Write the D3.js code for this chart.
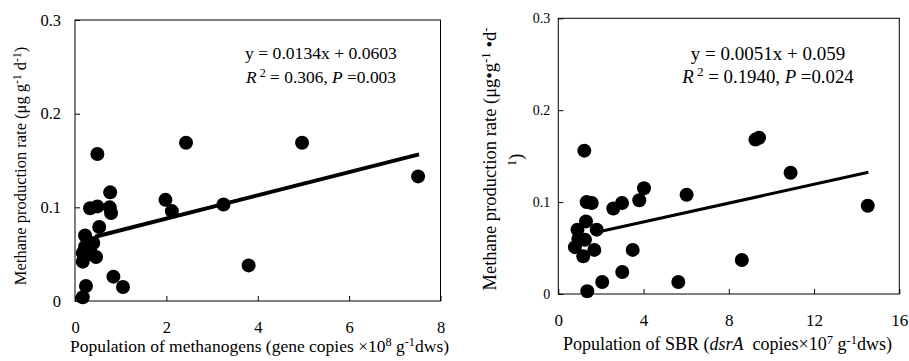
<!DOCTYPE html>
<html>
<head>
<meta charset="utf-8">
<script src="https://cdn.jsdelivr.net/npm/d3@7"></script>
<style>
  body { margin: 0; background: #fff; }
  svg text { font-family: "Liberation Serif", "Times New Roman", Times, "DejaVu Serif", serif; }
  .domain { display: none; }
</style>
</head>
<body>
<script>
var width = 909,
    height = 361;

// methanogens panel
var methX = [2.43, 4.97, 0.49, 7.51, 0.77, 1.98, 2.12, 3.25, 0.33, 0.49, 0.76, 0.79, 0.53,
             0.22, 0.40, 0.22, 0.33, 0.17, 0.46, 0.17, 0.84, 1.05, 0.24, 0.17, 3.80, 0.26];
var methY = [0.169, 0.169, 0.157, 0.133, 0.116, 0.108, 0.096, 0.103, 0.099, 0.101, 0.100, 0.094, 0.079,
             0.070, 0.062, 0.058, 0.056, 0.051, 0.047, 0.042, 0.026, 0.015, 0.016, 0.004, 0.038, 0.050];
var methFitX = [0.44, 7.53];
var methFitY = [0.0686, 0.1566];
var methXTicks = [0, 2, 4, 6, 8];

// SBR panel
var sbrX = [1.22, 9.25, 9.42, 10.9, 14.52, 6.02, 4.02, 3.80, 2.99, 2.58, 1.33, 1.57, 1.30,
            1.80, 0.90, 0.94, 1.25, 0.78, 1.17, 1.69, 3.49, 8.61, 3.00, 2.06, 5.63, 1.36];
var sbrY = [0.156, 0.168, 0.170, 0.132, 0.096, 0.108, 0.115, 0.102, 0.099, 0.093, 0.100, 0.099, 0.079,
            0.070, 0.070, 0.060, 0.059, 0.051, 0.041, 0.048, 0.048, 0.037, 0.024, 0.013, 0.013, 0.003];
var sbrFitX = [1.96, 14.55];
var sbrFitY = [0.068, 0.1324];
var sbrXTicks = [0, 4, 8, 12, 16];

var yTicks = [0, 0.1, 0.2, 0.3];

var serif = "'Liberation Serif', 'Times New Roman', Times, 'DejaVu Serif', serif";

var svg = d3.select("body").append("svg")
            .attr("width", width)
            .attr("height", height);

function drawPanel(p) {
  var x = d3.scaleLinear().domain([0, p.xMax]).range([p.left, p.right]);
  var y = d3.scaleLinear().domain([0, 0.3]).range([p.bottom, p.top]);
  var g = svg.append("g");

  g.append("rect")
    .attr("x", p.left).attr("y", p.top)
    .attr("width", p.right - p.left).attr("height", p.bottom - p.top)
    .attr("fill", "none").attr("stroke", "#000").attr("stroke-width", 1);

  var yAxis = g.append("g")
    .attr("transform", "translate(" + p.left + ",0)")
    .call(d3.axisLeft(y).tickValues(yTicks).tickSize(-5).tickPadding(p.yPad)
      .tickFormat(function(d) { return d === 0 ? "0" : d3.format(".1f")(d); }));
  yAxis.attr("font-family", serif);
  yAxis.selectAll("text").attr("font-size", p.yFont).attr("fill", "#000");
  yAxis.selectAll("line").attr("stroke", "#000");

  var xAxis = g.append("g")
    .attr("transform", "translate(0," + p.bottom + ")")
    .call(d3.axisBottom(x).tickValues(p.xTicks).tickSize(-5));
  xAxis.attr("font-family", serif);
  xAxis.selectAll("text").attr("font-size", p.xFont)
    .attr("fill", "#000").attr("y", p.xLabelY).attr("dy", 0);
  xAxis.selectAll("line").attr("stroke", "#000");

  // regression line
  g.append("line")
    .attr("x1", x(p.fitX[0])).attr("y1", y(p.fitY[0]))
    .attr("x2", x(p.fitX[1])).attr("y2", y(p.fitY[1]))
    .attr("stroke", "#000").attr("stroke-width", p.fitWidth);

  g.selectAll("circle.pt")
    .data(p.xs.map(function(d, i) { return [d, p.ys[i]]; }))
    .enter().append("circle")
    .attr("class", "pt")
    .attr("cx", function(d) { return x(d[0]); })
    .attr("cy", function(d) { return y(d[1]); })
    .attr("r", 7)
    .attr("fill", "#000");

  return { x: x, y: y, g: g };
}

// superscript: raised 0.315em of the parent size, then back down by the same amount
function sup(t, s) {
  t.append("tspan").attr("font-size", "0.7em").attr("dy", "-0.45em").text(s);
}
function down(t, s) {
  t.append("tspan").attr("dy", "0.315em").text(s);
}

// ---- left panel
var a = drawPanel({
  left: 75, right: 440.5, top: 20, bottom: 301, xMax: 8,
  xs: methX, ys: methY, fitX: methFitX, fitY: methFitY, fitWidth: 4,
  xTicks: methXTicks, yPad: 14, yFont: 16.5, xFont: 16.5, xLabelY: 32
});

var ly = a.g.append("text")
  .attr("transform", "translate(26,166) rotate(-90)")
  .attr("text-anchor", "middle").attr("font-size", 16.5);
ly.append("tspan").text("Methane production rate (μg g");
sup(ly, "-1");
down(ly, " d");
sup(ly, "-1");
down(ly, ")");

var lx = a.g.append("text")
  .attr("x", 259.5).attr("y", 352)
  .attr("text-anchor", "middle").attr("font-size", 17.5);
lx.append("tspan").text("Population of methanogens (gene copies ×10");
sup(lx, "8");
down(lx, " g");
sup(lx, "-1");
down(lx, "dws)");

a.g.append("text").attr("x", 321).attr("y", 59)
  .attr("text-anchor", "middle").attr("font-size", 17.6)
  .text("y = 0.0134x + 0.0603");
var le2 = a.g.append("text").attr("x", 321).attr("y", 83)
  .attr("text-anchor", "middle").attr("font-size", 17.4);
le2.append("tspan").attr("font-style", "italic").text("R");
le2.append("tspan").attr("font-size", "0.7em").attr("dy", "-0.5em").text(" 2");
le2.append("tspan").attr("dy", "0.35em").text(" = 0.306, ");
le2.append("tspan").attr("font-style", "italic").text("P");
le2.append("tspan").text(" =0.003");

// ---- right panel
var b = drawPanel({
  left: 558.3, right: 899.3, top: 18.3, bottom: 294, xMax: 16,
  xs: sbrX, ys: sbrY, fitX: sbrFitX, fitY: sbrFitY, fitWidth: 3,
  xTicks: sbrXTicks, yPad: 8, yFont: 14, xFont: 17, xLabelY: 32
});

var ry = b.g.append("text")
  .attr("transform", "translate(496,159) rotate(-90)")
  .attr("text-anchor", "middle").attr("font-size", 18.5);
ry.append("tspan").text("Methane production rate (μg•g");
sup(ry, "-1");
down(ry, " •d");
sup(ry, "-");
var ry2 = b.g.append("text")
  .attr("transform", "translate(522,160) rotate(-90)")
  .attr("text-anchor", "middle").attr("font-size", 18.5);
ry2.append("tspan").attr("font-size", "0.7em").attr("dy", "-0.45em").text("1");
ry2.append("tspan").attr("dy", "0.315em").text(")");

var rx = b.g.append("text")
  .attr("x", 727.5).attr("y", 350)
  .attr("text-anchor", "middle").attr("font-size", 18);
rx.append("tspan").text("Population of SBR (");
rx.append("tspan").attr("font-style", "italic").text("dsrA");
rx.append("tspan").text("\u00a0 copies×10");
sup(rx, "7");
down(rx, " g");
sup(rx, "-1");
down(rx, "dws)");

b.g.append("text").attr("x", 768).attr("y", 60)
  .attr("text-anchor", "middle").attr("font-size", 19)
  .text("y = 0.0051x + 0.059");
var re2 = b.g.append("text").attr("x", 768).attr("y", 83)
  .attr("text-anchor", "middle").attr("font-size", 18.8);
re2.append("tspan").attr("font-style", "italic").text("R");
re2.append("tspan").attr("font-size", "0.7em").attr("dy", "-0.5em").text(" 2");
re2.append("tspan").attr("dy", "0.35em").text(" = 0.1940, ");
re2.append("tspan").attr("font-style", "italic").text("P");
re2.append("tspan").text(" =0.024");
</script>
</body>
</html>
